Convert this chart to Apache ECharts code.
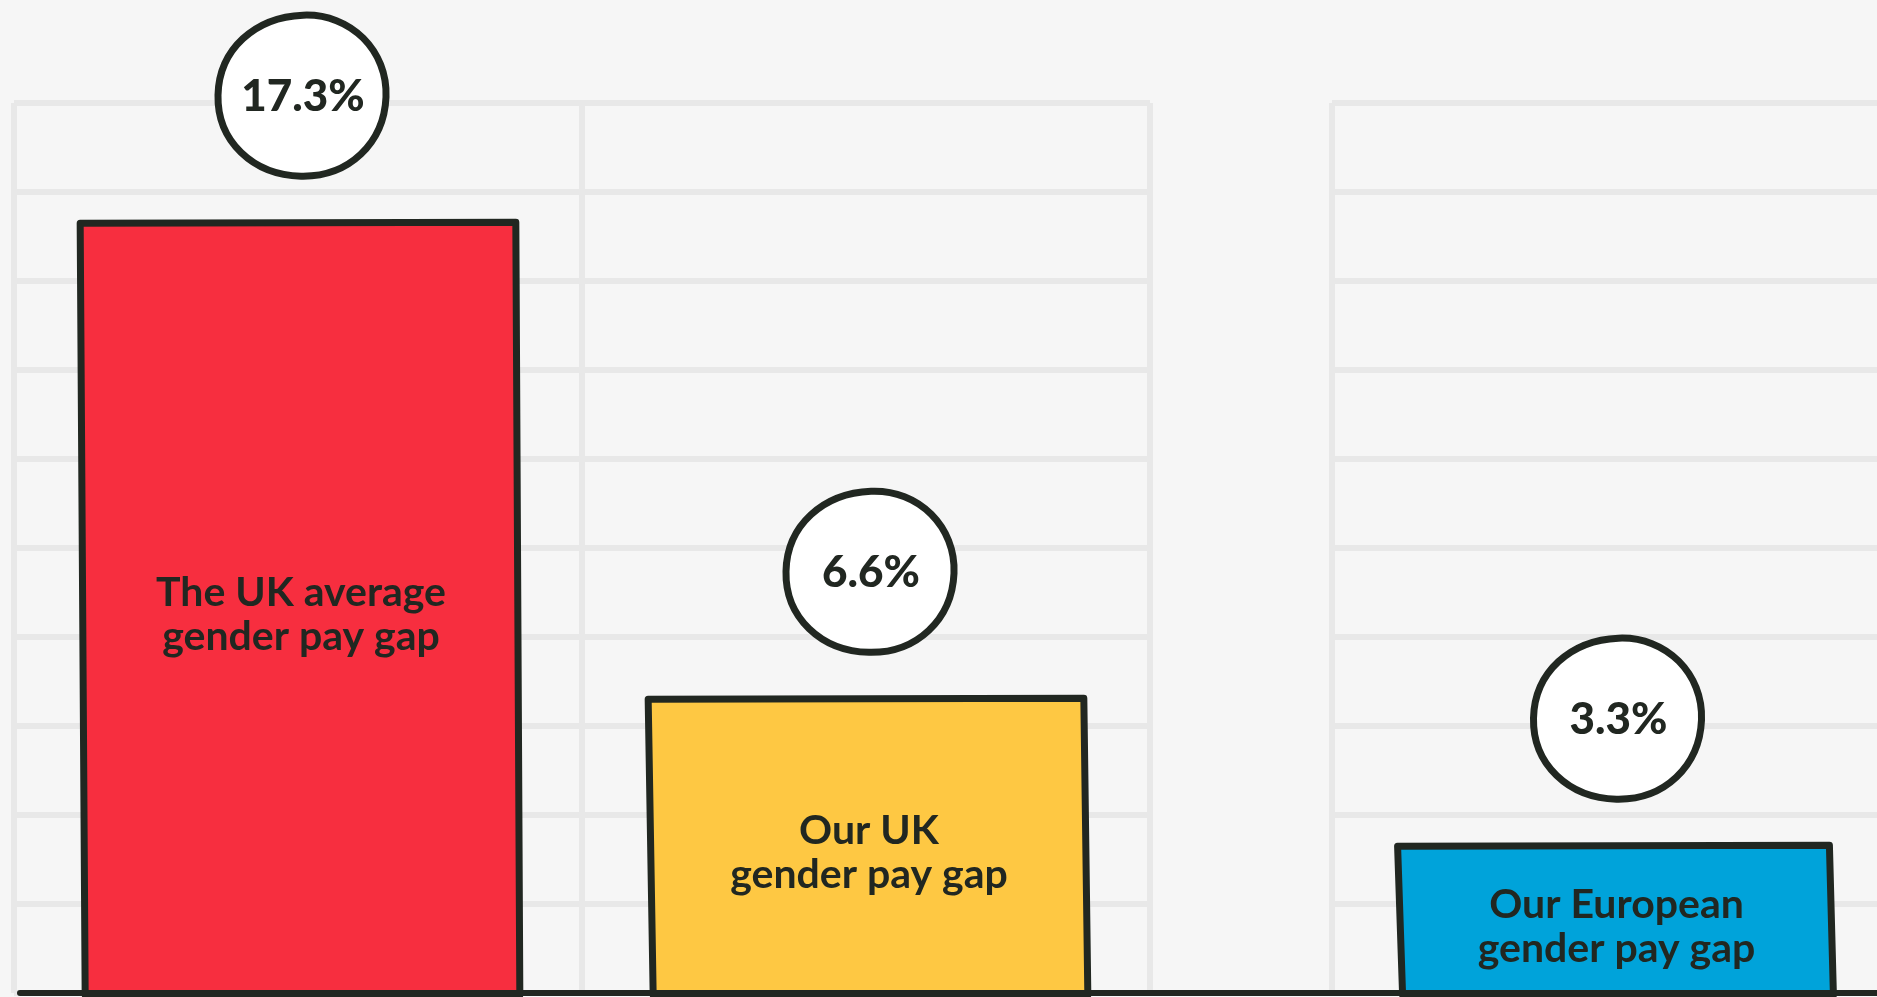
<!DOCTYPE html>
<html>
<head>
<meta charset="utf-8">
<title>Gender pay gap</title>
<script src="https://cdn.jsdelivr.net/npm/echarts@6/dist/echarts.min.js"></script>
<style>
  html, body { margin: 0; padding: 0; background: #f6f6f6; }
  #chart { width: 1877px; height: 997px; }
</style>
</head>
<body>
<div id="chart"></div>
<script>
// UK panel: national average vs our own UK figure
const ukCategories = ['The UK average\ngender pay gap', 'Our UK\ngender pay gap'];
const ukPayGap = [17.3, 6.6];

// Europe panel
const europeCategories = ['Our European\ngender pay gap'];
const europePayGap = [3.3];

// Value axis (percent), gridlines every 2 points
const gapAxisMax = 20;
const gapAxisStep = 2;

const ukColors = ['#f72e3f', '#fec843'];
const europeColors = ['#00a3da'];

const INK = '#212721';
const GRID_LINE = '#e8e8e8';
const FONT = 'Lato, "Open Sans", sans-serif';

// Slightly irregular closed outline for the value bubbles, centred on (0, 0)
const BUBBLE_PATH =
  'M 1 -81 C 49 -83 86 -45 84 1 C 82 47 47 81 -1 80 ' +
  'C -49 79 -85 45 -84 -1 C -83 -47 -47 -79 1 -81 Z';

function handDrawnBars(labels, colors) {
  return function (params, api) {
    const i = api.value(0);
    const v = api.value(1);
    const top = api.coord([i, v]);
    const base = api.coord([i, 0]);
    const band = api.size([1, 0])[0];
    const half = band * 0.767 / 2;
    const cx = top[0];
    const x0 = cx - half;
    const x1 = cx + half;
    const yt = top[1];
    const yb = base[1] + 2;
    // tilt the sides a little for a sketched look
    const points = [[x0, yt], [x1, yt - 1], [x1 + 4, yb], [x0 + 5, yb]];
    const bx = cx + 4;
    const by = yt - 127;
    return {
      type: 'group',
      children: [
        {
          type: 'polygon',
          shape: { points: points },
          style: { fill: colors[i], stroke: INK, lineWidth: 7, lineJoin: 'round' }
        },
        {
          type: 'text',
          x: cx + 3,
          y: (yt + yb) / 2 + 6,
          style: {
            text: labels[i],
            fill: INK,
            fontFamily: FONT,
            fontWeight: 'bold',
            fontSize: 41,
            lineHeight: 44,
            align: 'center',
            verticalAlign: 'middle'
          }
        },
        {
          type: 'path',
          x: bx,
          y: by,
          shape: { pathData: BUBBLE_PATH },
          style: { fill: '#ffffff', stroke: INK, lineWidth: 7 }
        },
        {
          type: 'text',
          x: bx + 1,
          y: by + 1,
          style: {
            text: v + '%',
            fill: INK,
            fontFamily: FONT,
            fontWeight: 900,
            fontSize: 44,
            align: 'center',
            verticalAlign: 'middle'
          }
        }
      ]
    };
  };
}

const splitStyle = { show: true, lineStyle: { color: GRID_LINE, width: 6 } };

function panelXAxis(gridIndex, cats) {
  return {
    type: 'category',
    gridIndex: gridIndex,
    data: cats,
    boundaryGap: true,
    axisLine: { show: false },
    axisTick: { show: false },
    axisLabel: { show: false },
    splitLine: Object.assign({ interval: 0 }, splitStyle)
  };
}

function panelYAxis(gridIndex) {
  return {
    type: 'value',
    gridIndex: gridIndex,
    min: 0,
    max: gapAxisMax,
    interval: gapAxisStep,
    axisLine: { show: false },
    axisTick: { show: false },
    axisLabel: { show: false },
    splitLine: splitStyle
  };
}

const chart = echarts.init(document.getElementById('chart'), null, { renderer: 'canvas' });

chart.setOption({
  backgroundColor: '#f6f6f6',
  animation: false,
  grid: [
    { left: 14, width: 1136, top: 103, bottom: 4, outerBoundsMode: 'none' },
    // the Europe panel runs on past the right edge of the page
    { left: 1332, width: 563, top: 103, bottom: 4, outerBoundsMode: 'none' },
    // full-width ground line under both panels
    { left: 20, right: 0, top: 103, bottom: 4, outerBoundsMode: 'none' }
  ],
  xAxis: [
    panelXAxis(0, ukCategories),
    panelXAxis(1, europeCategories),
    {
      type: 'value',
      gridIndex: 2,
      min: 0,
      max: 1,
      z: 10,
      axisLine: { show: true, lineStyle: { color: INK, width: 6, cap: 'round' } },
      axisTick: { show: false },
      axisLabel: { show: false },
      splitLine: { show: false }
    }
  ],
  yAxis: [
    panelYAxis(0),
    panelYAxis(1),
    { type: 'value', gridIndex: 2, min: 0, max: 1, show: false }
  ],
  series: [
    {
      type: 'custom',
      xAxisIndex: 0,
      yAxisIndex: 0,
      clip: false,
      renderItem: handDrawnBars(ukCategories, ukColors),
      encode: { x: 0, y: 1 },
      data: ukPayGap.map(function (v, i) { return [i, v]; })
    },
    {
      type: 'custom',
      xAxisIndex: 1,
      yAxisIndex: 1,
      clip: false,
      renderItem: handDrawnBars(europeCategories, europeColors),
      encode: { x: 0, y: 1 },
      data: europePayGap.map(function (v, i) { return [i, v]; })
    }
  ]
});
</script>
</body>
</html>
